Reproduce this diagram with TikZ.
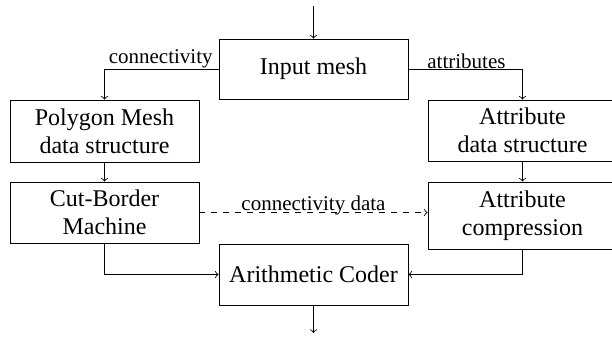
\documentclass[tikz,border=0pt]{standalone}
\usepackage{fontspec}
\setmainfont{Liberation Serif}
\usepackage{tikz}

\tikzset{
  block/.style={draw, align=center, minimum width=94.5pt, inner sep=2pt,
                font=\fontsize{12}{14}\selectfont},
  lbl/.style={inner sep=0pt, font=\fontsize{10.5}{12}\selectfont}
}

\begin{document}
\begin{tikzpicture}[x=0.5pt, y=-0.5pt]
\useasboundingbox (0,0) rectangle (612,338);
\node[block, minimum height=30pt] (input) at (313.5, 69) {Input mesh};
\node[block, minimum height=31pt] (poly) at (104.5, 131) {Polygon Mesh\\data structure};
\node[block, minimum height=30.5pt] (attr) at (522.5, 130.5) {Attribute\\data structure};
\node[block, minimum height=30.5pt] (cut) at (104.5, 212.5) {Cut-Border\\Machine};
\node[block, minimum height=33.5pt] (comp) at (522.5, 215.5) {Attribute\\compression};
\node[block, minimum height=30.5pt] (coder) at (313.5, 274.5) {Arithmetic Coder};
\coordinate (in) at (313.5, 6);
\coordinate (out) at (313.5, 333);
\draw[->] (in) -- (input);
\draw[->] (input.west) -| (poly);
\draw[->] (input.east) -| (attr);
\draw[->] (poly) -- (cut);
\draw[->] (attr) -- (comp);
\draw[->, dashed] (cut.east) -- (cut.east -| comp.west);
\draw[->] (cut) |- (coder);
\draw[->] (comp) |- (coder);
\draw[->] (coder) -- (out);
\node[lbl, anchor=base east] (conn) at (213, 63) {connectivity};
\node[lbl, anchor=base west] (attrs) at (427, 68.5) {attributes};
\node[lbl, anchor=base] (conndata) at (313.5, 210) {connectivity data};
\end{tikzpicture}
\end{document}
